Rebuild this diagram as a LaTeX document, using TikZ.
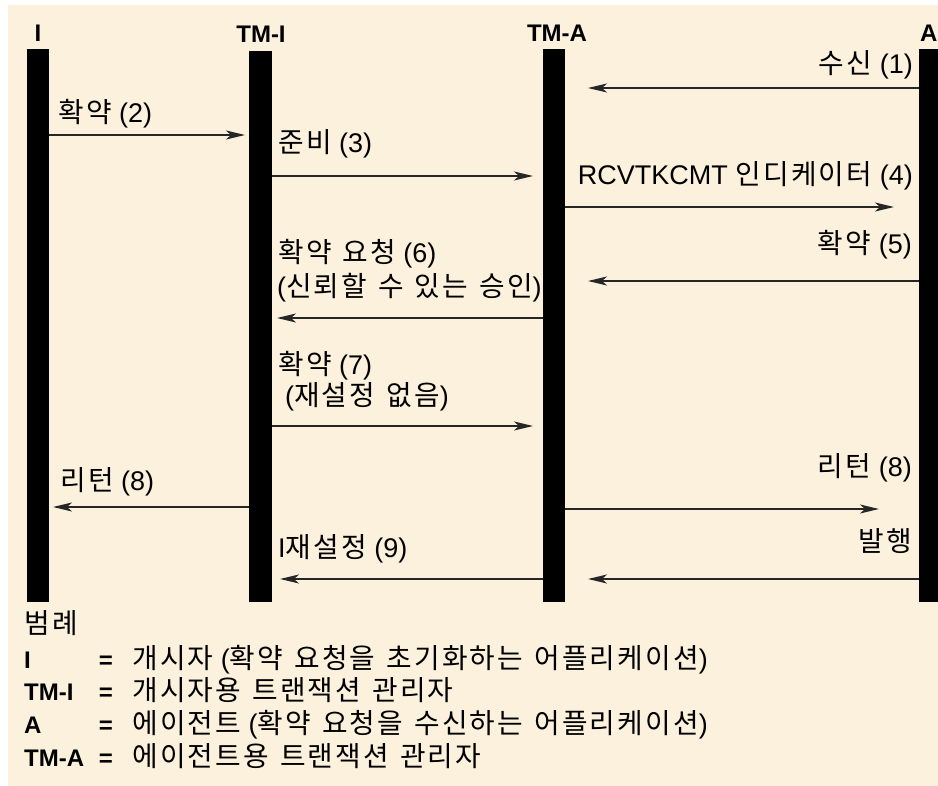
\documentclass[tikz,border=0pt]{standalone}
\usepackage{fontspec}
\setmainfont{Liberation Sans}
\newfontfamily\kr[Scale=1.03,LetterSpace=8,WordSpace=1.3]{Noto Sans CJK KR}
\usetikzlibrary{arrows.meta}
\definecolor{cream}{RGB}{251,241,221}
\begin{document}
\begin{tikzpicture}[x=1pt,y=-1pt,
  lbl/.style={inner sep=0pt, font=\fontsize{27}{31}\selectfont},
  hdr/.style={inner sep=0pt, font=\fontsize{24}{28}\selectfont\bfseries},
  bar/.style={fill=black, draw=none, inner sep=0pt, minimum width=22pt},
  msg/.style={draw=black!85, line width=1.8pt, -{Stealth[length=19pt,width=9pt,inset=5pt]}}
]
\useasboundingbox (0,0) rectangle (938,786);
\fill[white] (0,0) rectangle (938,786);
\fill[cream] (8,5) rectangle (938,786);

% lifelines
\node[bar, minimum height=553pt] (barI)   at (38,325.5) {};
\node[bar, minimum width=23pt, minimum height=551pt] (barTMI) at (260.5,326.5) {};
\node[bar, minimum height=553pt] (barTMA) at (554,325.5) {};
\node[bar, minimum height=553pt] (barA)   at (930,325.5) {};

% headers
\node[hdr, anchor=base] (hI)   at (38,42) {I};
\node[hdr, anchor=base] (hTMI) at (261,43) {TM-I};
\node[hdr, anchor=base] (hTMA) at (557,42) {TM-A};
\node[hdr, anchor=base west] (hA) at (920,42) {A};

% labels
\node[lbl, anchor=base east] (l1)  at (913,74)  {{\kr 수신} (1)};
\node[lbl, anchor=base west] (l2)  at (58,123)  {{\kr 확약} (2)};
\node[lbl, anchor=base west] (l3)  at (278,153) {{\kr 준비} (3)};
\node[lbl, anchor=base east] (l4)  at (913,185) {RCVTKCMT {\kr 인디케이터} (4)};
\node[lbl, anchor=base east] (l5)  at (912,254) {{\kr 확약} (5)};
\node[lbl, anchor=base west] (l6a) at (278,263) {{\kr 확약 요청} (6)};
\node[lbl, anchor=base west] (l6b) at (277,297) {({\kr 신뢰할 수 있는 승인})};
\node[lbl, anchor=base west] (l7a) at (278,375) {{\kr 확약} (7)};
\node[lbl, anchor=base west] (l7b) at (285,406) {({\kr 재설정 없음})};
\node[lbl, anchor=base west] (l8a) at (60,490)  {{\kr 리턴} (8)};
\node[lbl, anchor=base east] (l8b) at (912,477) {{\kr 리턴} (8)};
\node[lbl, anchor=base west] (l9a) at (278,557) {I{\kr 재설정} (9)};
\node[lbl, anchor=base east] (l9b) at (912,551) {{\kr 발행}};

% arrow tips
\coordinate (e1)  at (588,88);
\coordinate (e2)  at (245,135);
\coordinate (e3)  at (533,176);
\coordinate (e4)  at (894,207);
\coordinate (e5)  at (588,281);
\coordinate (e6)  at (277,318);
\coordinate (e7)  at (533,426);
\coordinate (e8a) at (53,507);
\coordinate (e8b) at (879,509);
\coordinate (e9a) at (280,579);
\coordinate (e9b) at (588,579);

\draw[msg] (barA.west |- e1) -- (e1);
\draw[msg] (barI.east |- e2) -- (e2);
\draw[msg] (barTMI.east |- e3) -- (e3);
\draw[msg] (barTMA.east |- e4) -- (e4);
\draw[msg] (barA.west |- e5) -- (e5);
\draw[msg] (barTMA.west |- e6) -- (e6);
\draw[msg] (barTMI.east |- e7) -- (e7);
\draw[msg] (barTMI.west |- e8a) -- (e8a);
\draw[msg] (barTMA.east |- e8b) -- (e8b);
\draw[msg] (barTMA.west |- e9a) -- (e9a);
\draw[msg] (barA.west |- e9b) -- (e9b);

% legend
\node[lbl, anchor=base west] (lg) at (24,633) {{\kr 범례}};
\node[hdr, anchor=base west] (k1) at (24,668) {I};
\node[hdr, anchor=base west] (k2) at (24,700) {TM-I};
\node[hdr, anchor=base west] (k3) at (24,733) {A};
\node[hdr, anchor=base west] (k4) at (24,766) {TM-A};
\node[hdr, anchor=base] (q1) at (106,668) {=};
\node[hdr, anchor=base] (q2) at (106,700) {=};
\node[hdr, anchor=base] (q3) at (106,733) {=};
\node[hdr, anchor=base] (q4) at (106,766) {=};
\node[lbl, anchor=base west] (d1) at (132,668) {{\kr 개시자} ({\kr 확약 요청을 초기화하는 어플리케이션})};
\node[lbl, anchor=base west] (d2) at (132,700) {{\kr 개시자용 트랜잭션 관리자}};
\node[lbl, anchor=base west] (d3) at (132,733) {{\kr 에이전트} ({\kr 확약 요청을 수신하는 어플리케이션})};
\node[lbl, anchor=base west] (d4) at (132,766) {{\kr 에이전트용 트랜잭션 관리자}};
\end{tikzpicture}
\end{document}
